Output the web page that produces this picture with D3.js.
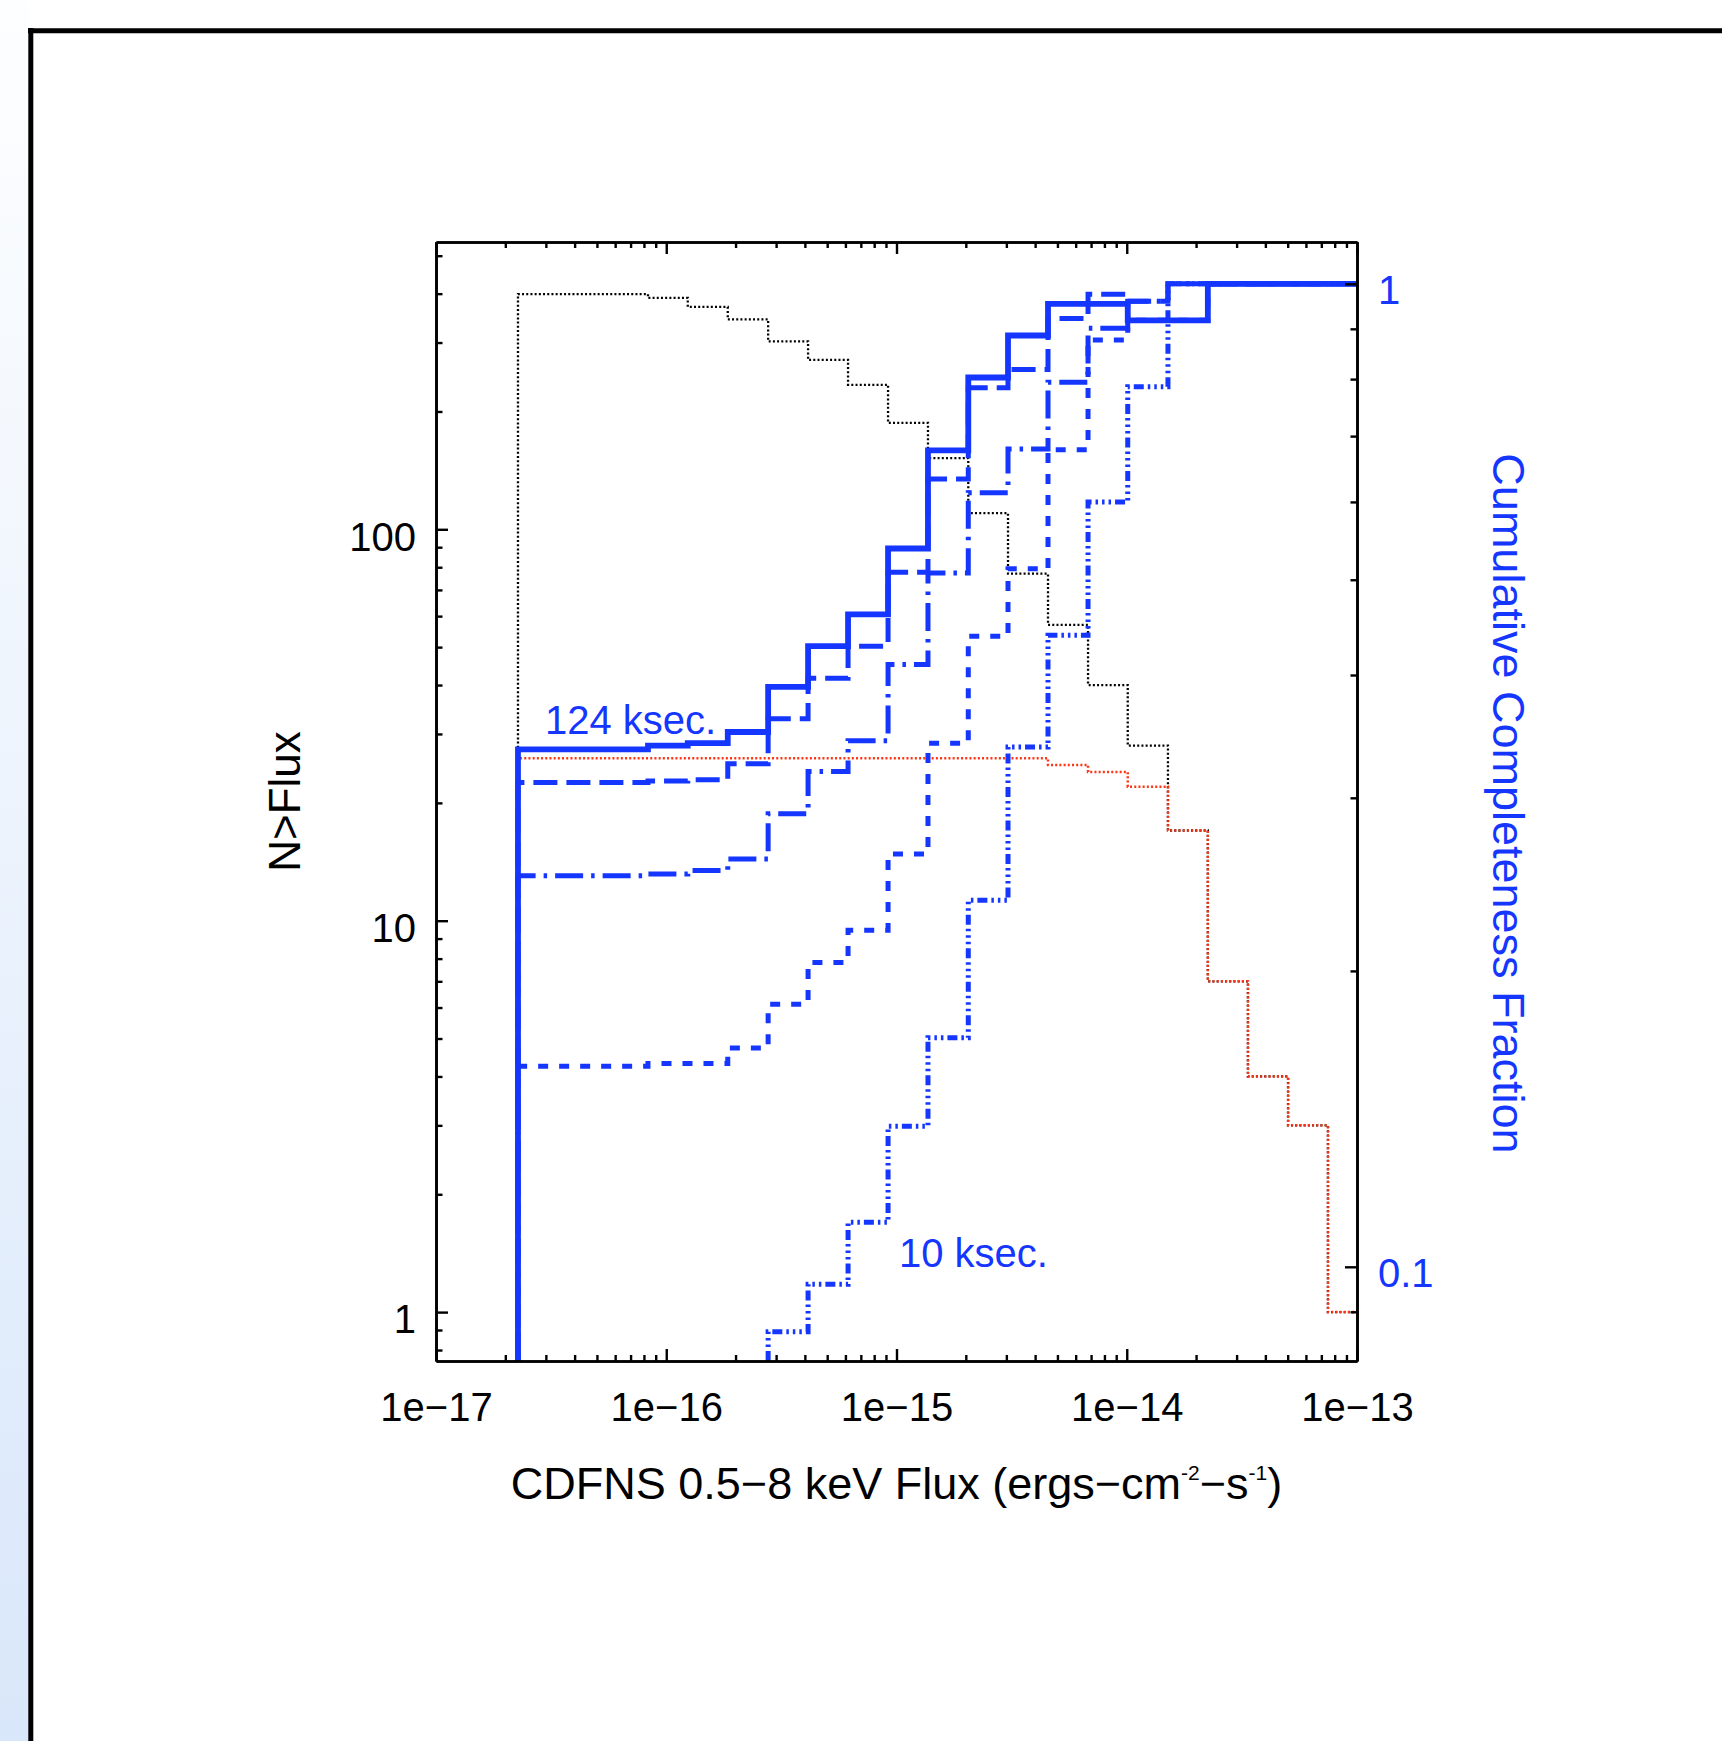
<!DOCTYPE html>
<html>
<head>
<meta charset="utf-8">
<script src="https://cdn.jsdelivr.net/npm/d3@7"></script>
<style>
  html, body { margin: 0; padding: 0; background: #fff; }
  svg { display: block; }
</style>
</head>
<body>
<div id="chart-container"></div>
<script>
// histogram bin edges, 0.5-8 keV flux (ergs cm^-2 s^-1)
const fluxEdges = [2.27e-17, 3.74e-17, 5.58e-17, 8.33e-17, 1.24e-16, 1.85e-16, 2.77e-16,
  4.13e-16, 6.16e-16, 9.19e-16, 1.37e-15, 2.05e-15, 3.05e-15, 4.55e-15, 6.79e-15,
  1.01e-14, 1.51e-14, 2.25e-14, 3.36e-14, 5.02e-14, 7.48e-14, 1e-13];

// N > Flux (left axis)
const nAll = [399, 399, 399, 390, 370, 344, 302, 271, 234, 187, 152, 110, 77, 57, 40, 28, 17, 7, 4, 3, 1];
const nDetected = [26, 26, 26, 26, 26, 26, 26, 26, 26, 26, 26, 26, 26, 25, 24, 22, 17, 7, 4, 3, 1];

// cumulative completeness fraction (right axis), one array per exposure
const frac124 = [0.336, 0.336, 0.336, 0.339, 0.341, 0.350, 0.389, 0.428, 0.461, 0.538, 0.677,
  0.803, 0.886, 0.954, 0.954, 0.918, 0.918, 1, 1, 1, 1];
const fracLongDash = [0.311, 0.311, 0.311, 0.312, 0.313, 0.325, 0.361, 0.397, 0.428, 0.509, 0.633,
  0.784, 0.818, 0.922, 0.976, 0.960, 1, 1, 1, 1, 1];
const fracDashDot = [0.250, 0.250, 0.250, 0.251, 0.253, 0.260, 0.289, 0.319, 0.343, 0.410, 0.508,
  0.613, 0.679, 0.794, 0.901, 0.960, 1, 1, 1, 1, 1];
const fracDash = [0.160, 0.160, 0.160, 0.161, 0.161, 0.167, 0.185, 0.204, 0.220, 0.263, 0.341,
  0.438, 0.513, 0.678, 0.877, 0.918, 0.918, 1, 1, 1, 1];
const frac10 = [null, null, null, null, null, null, 0.0859, 0.096, 0.111, 0.139, 0.171,
  0.236, 0.338, 0.439, 0.600, 0.786, 1, 1, 1, 1, 1];

const xTickValues = [1e-17, 1e-16, 1e-15, 1e-14, 1e-13];
const xTickLabels = ["1e\u221217", "1e\u221216", "1e\u221215", "1e\u221214", "1e\u221213"];
const leftTickValues = [1, 10, 100];
const leftTickLabels = ["1", "10", "100"];
const rightTickValues = [0.1, 1];
const rightTickLabels = ["0.1", "1"];

const FONT = "'Liberation Sans', Arial, Helvetica, sans-serif";
const BLUE = "#1436ff";
const RED = "#ff3414";

const PAGE_W = 1722, PAGE_H = 1741;
const MARGIN = { left: 436, right: 365, top: 242, bottom: 380 };
const WIDTH = PAGE_W - MARGIN.left - MARGIN.right;
const HEIGHT = PAGE_H - MARGIN.top - MARGIN.bottom;

const svg = d3.select("#chart-container").append("svg")
  .attr("width", PAGE_W)
  .attr("height", PAGE_H);

// slide background: pale blue strip on the left and a black frame
const grad = svg.append("defs").append("linearGradient")
  .attr("id", "strip").attr("x1", 0).attr("y1", 0).attr("x2", 0).attr("y2", 1);
grad.append("stop").attr("offset", "0%").attr("stop-color", "#fdfeff");
grad.append("stop").attr("offset", "100%").attr("stop-color", "#d9e7fa");

svg.append("rect").attr("x", 0).attr("y", 0).attr("width", 29).attr("height", PAGE_H)
  .attr("fill", "url(#strip)");
svg.append("line").attr("x1", 28).attr("x2", PAGE_W).attr("y1", 30.8).attr("y2", 30.8)
  .attr("stroke", "#000").attr("stroke-width", 5);
svg.append("line").attr("x1", 30.8).attr("x2", 30.8).attr("y1", 28).attr("y2", PAGE_H)
  .attr("stroke", "#000").attr("stroke-width", 5);

const g = svg.append("g")
  .attr("transform", `translate(${MARGIN.left},${MARGIN.top})`);

g.append("clipPath").attr("id", "plot-clip")
  .append("rect").attr("width", WIDTH).attr("height", HEIGHT);

const x = d3.scaleLog().domain([1e-17, 1e-13]).range([0, WIDTH]);
const yLeft = d3.scaleLog().domain([0.75, 542]).range([HEIGHT, 0]);
const yRight = d3.scaleLog().domain([0.0802, 1.103]).range([HEIGHT, 0]);

const isDecade = v => Math.abs(Math.log10(v) - Math.round(Math.log10(v))) < 1e-6;
const xMinor = x.ticks().filter(v => !isDecade(v));
const leftMinor = yLeft.ticks().filter(v => !isDecade(v));
const rightMinor = yRight.ticks().filter(v => !isDecade(v));

// build a step outline from bin edges and bin values, rising from the floor
function stepPoints(vals) {
  const first = vals.findIndex(v => v != null);
  const pts = [{ x: fluxEdges[first], y: null }];
  for (let i = first; i < vals.length; i++) pts.push({ x: fluxEdges[i], y: vals[i] });
  pts.push({ x: fluxEdges[vals.length], y: vals[vals.length - 1] });
  return pts;
}

function stepLine(yScale) {
  return d3.line()
    .x(d => x(d.x))
    .y(d => d.y == null ? HEIGHT : yScale(d.y))
    .curve(d3.curveStepAfter);
}

const curves = g.append("g").attr("clip-path", "url(#plot-clip)").attr("fill", "none");

const series = [
  { vals: nAll, scale: yLeft, color: "#000", width: 2.3, dash: "2,2.2" },
  { vals: nDetected, scale: yLeft, color: RED, width: 2.5, dash: "2,2.2" },
  { vals: frac10, scale: yRight, color: BLUE, width: 5, dash: "10,4,2.5,4,2.5,4,2.5,4" },
  { vals: fracDash, scale: yRight, color: BLUE, width: 5, dash: "10,11" },
  { vals: fracDashDot, scale: yRight, color: BLUE, width: 5, dash: "28,8,3.5,8" },
  { vals: fracLongDash, scale: yRight, color: BLUE, width: 5, dash: "24,9" },
  { vals: frac124, scale: yRight, color: BLUE, width: 5.8, dash: null }
];

series.forEach(s => {
  curves.append("path")
    .attr("d", stepLine(s.scale)(stepPoints(s.vals)))
    .attr("stroke", s.color)
    .attr("stroke-width", s.width)
    .attr("stroke-dasharray", s.dash);
});

// axes, ticks pointing inward
function styleAxis(sel, color) {
  sel.attr("font-family", FONT).attr("font-size", 40);
  sel.selectAll("path.domain").attr("stroke", "#000").attr("stroke-width", 2.6);
  sel.selectAll(".tick line").attr("stroke", "#000").attr("stroke-width", 2.4);
  sel.selectAll(".tick text").attr("fill", color);
}

const xAxisGroup = g.append("g").attr("transform", `translate(0,${HEIGHT})`);
xAxisGroup.call(d3.axisBottom(x).tickValues(xTickValues)
  .tickFormat((d, i) => xTickLabels[i]).tickSizeInner(-12).tickSizeOuter(0).tickPadding(32));
styleAxis(xAxisGroup, "#000");

const xMinorGroup = g.append("g").attr("transform", `translate(0,${HEIGHT})`);
xMinorGroup.call(d3.axisBottom(x).tickValues(xMinor).tickFormat("").tickSizeInner(-6).tickSizeOuter(0));
styleAxis(xMinorGroup, "#000");

const xTopGroup = g.append("g");
xTopGroup.call(d3.axisTop(x).tickValues(xTickValues).tickFormat("").tickSizeInner(-12).tickSizeOuter(0));
styleAxis(xTopGroup, "#000");
const xTopMinor = g.append("g");
xTopMinor.call(d3.axisTop(x).tickValues(xMinor).tickFormat("").tickSizeInner(-6).tickSizeOuter(0));
styleAxis(xTopMinor, "#000");

const yLeftGroup = g.append("g");
yLeftGroup.call(d3.axisLeft(yLeft).tickValues(leftTickValues)
  .tickFormat((d, i) => leftTickLabels[i]).tickSizeInner(-12).tickSizeOuter(0).tickPadding(20));
styleAxis(yLeftGroup, "#000");
yLeftGroup.selectAll(".tick text").attr("dy", "0.52em");

const yLeftMinor = g.append("g");
yLeftMinor.call(d3.axisLeft(yLeft).tickValues(leftMinor).tickFormat("").tickSizeInner(-6.5).tickSizeOuter(0));
styleAxis(yLeftMinor, "#000");

const yRightGroup = g.append("g").attr("transform", `translate(${WIDTH},0)`);
yRightGroup.call(d3.axisRight(yRight).tickValues(rightTickValues)
  .tickFormat((d, i) => rightTickLabels[i]).tickSizeInner(-12).tickSizeOuter(0).tickPadding(21));
styleAxis(yRightGroup, BLUE);
yRightGroup.selectAll(".tick text").attr("dy", "0.5em");

const yRightMinor = g.append("g").attr("transform", `translate(${WIDTH},0)`);
yRightMinor.call(d3.axisRight(yRight).tickValues(rightMinor).tickFormat("").tickSizeInner(-6.5).tickSizeOuter(0));
styleAxis(yRightMinor, BLUE);

// axis titles
const xTitle = g.append("text")
  .attr("x", WIDTH / 2)
  .attr("y", HEIGHT + 138)
  .attr("text-anchor", "middle")
  .attr("font-family", FONT)
  .attr("font-size", 45)
  .attr("fill", "#000");
xTitle.append("tspan").text("CDFNS 0.5\u22128 keV Flux (ergs\u2212cm");
xTitle.append("tspan").attr("font-size", 21).attr("dy", -19).text("-2");
xTitle.append("tspan").attr("dy", 19).text("\u2212s");
xTitle.append("tspan").attr("font-size", 21).attr("dy", -19).text("-1");
xTitle.append("tspan").attr("dy", 19).text(")");

g.append("text")
  .attr("transform", `translate(-136,${HEIGHT / 2}) rotate(-90)`)
  .attr("text-anchor", "middle")
  .attr("font-family", FONT)
  .attr("font-size", 44)
  .attr("fill", "#000")
  .text("N>Flux");

g.append("text")
  .attr("transform", `translate(${WIDTH + 136},${HEIGHT / 2 + 2}) rotate(90)`)
  .attr("text-anchor", "middle")
  .attr("font-family", FONT)
  .attr("font-size", 45)
  .attr("fill", BLUE)
  .text("Cumulative Completeness Fraction");

// exposure annotations
g.append("text")
  .attr("x", 109).attr("y", 491.6)
  .attr("font-family", FONT).attr("font-size", 40).attr("fill", BLUE)
  .text("124 ksec.");
g.append("text")
  .attr("x", 463).attr("y", 1024.7)
  .attr("font-family", FONT).attr("font-size", 40).attr("fill", BLUE)
  .text("10 ksec.");
</script>
</body>
</html>
